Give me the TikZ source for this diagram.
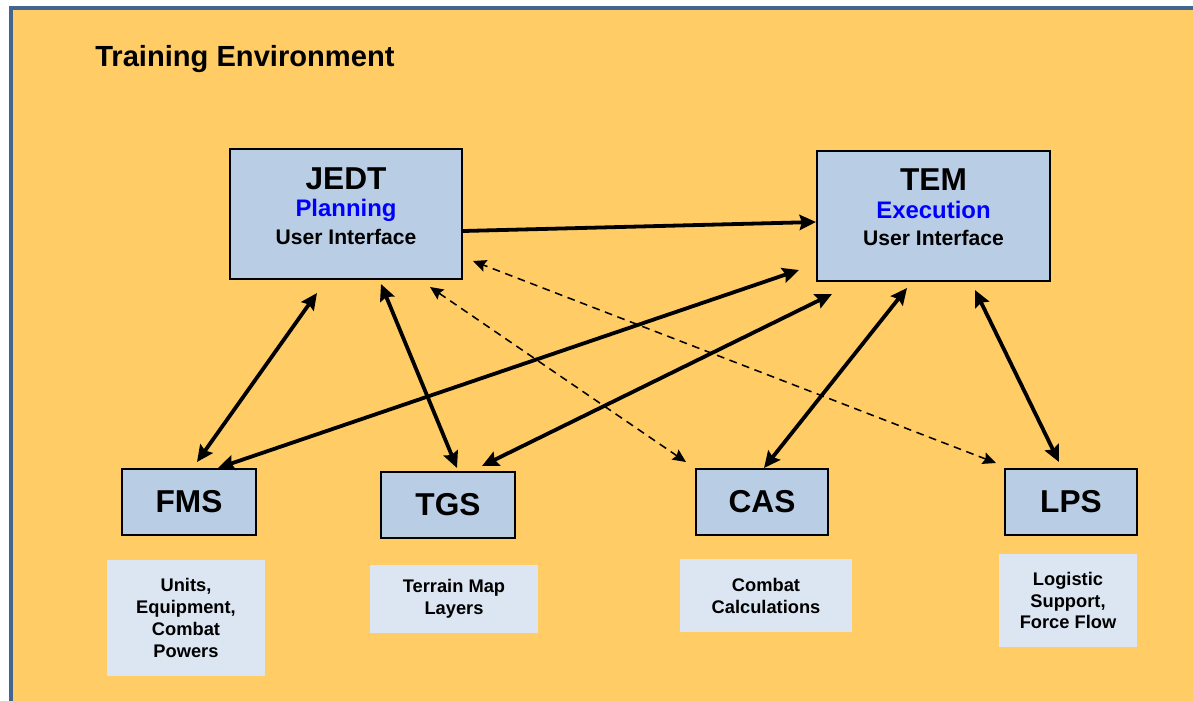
\documentclass[tikz,border=0pt]{standalone}
\usepackage{fontspec}
\setmainfont{Liberation Sans}
\usetikzlibrary{arrows.meta,calc}
\definecolor{envbg}{RGB}{255,204,102}
\definecolor{envframe}{RGB}{68,101,143}
\definecolor{boxfill}{RGB}{185,205,229}
\definecolor{notefill}{RGB}{220,230,242}
\definecolor{modeblue}{RGB}{0,0,255}
\newcommand{\fsz}[2]{\fontsize{#1}{#2}\selectfont\bfseries}
\tikzset{
  sysbox/.style={draw=black, line width=1.4pt, fill=boxfill, inner sep=0pt},
  uibox/.style={sysbox, minimum width=5.8cm, minimum height=3.25cm},
  modbox/.style={sysbox, minimum width=3.35cm, minimum height=1.65cm, font=\fsz{22.5}{27}},
  note/.style={fill=notefill, inner sep=0pt, align=center, font=\fsz{13}{15.6}},
  uitxt/.style={align=center, font=\fsz{15}{19.5}},
  link/.style={{Stealth[length=4.1mm,width=3.8mm,inset=0.6mm]}-{Stealth[length=4.1mm,width=3.8mm,inset=0.6mm]}, line width=2.7pt},
  flow/.style={-{Stealth[length=4.1mm,width=3.8mm,inset=0.6mm]}, line width=2.7pt},
  weak/.style={{Stealth[length=3.3mm,width=3mm,inset=0.5mm]}-{Stealth[length=3.3mm,width=3mm,inset=0.5mm]}, line width=1.1pt, dash pattern=on 5.5pt off 4pt},
}

\begin{document}
\begin{tikzpicture}[x=0.025cm, y=-0.025cm]
  \useasboundingbox (0,0) rectangle (1193,700);
  \fill[white] (0,0) rectangle (1193,700);
  \clip (0,0) rectangle (1193,700);
  \draw[envframe, line width=2.9pt, fill=envbg] (11,8) rectangle (1215,720);
  \node[anchor=base west, inner sep=0pt, font=\fsz{20.7}{24}] (title) at (95,66) {Training Environment};

  \node[uibox] (jedt) at (346,214) {};
  \node[uitxt] (jedttxt) at ($(jedt)+(0,-8)$) {{\fsz{22.5}{27}JEDT}\\{\color{modeblue}\fsz{17}{20}Planning}\\User Interface};
  \node[uibox, minimum width=5.825cm] (tem) at (933.5,216) {};
  \node[uitxt] (temtxt) at ($(tem)+(0,-8.5)$) {{\fsz{22.5}{27}TEM}\\{\color{modeblue}\fsz{17}{20}Execution}\\User Interface};

  \node[modbox] (fms) at (189,502) {FMS};
  \node[modbox] (tgs) at (448,505) {TGS};
  \node[modbox, minimum width=3.3cm] (cas) at (762,502) {CAS};
  \node[modbox, minimum width=3.3cm] (lps) at (1071,502) {LPS};

  \node[note, minimum width=3.95cm, minimum height=2.9cm] (fmsnote) at (186,618) {Units,\\Equipment,\\Combat\\Powers};
  \node[note, minimum width=4.2cm, minimum height=1.7cm] (tgsnote) at (454,599) {Terrain Map\\Layers};
  \node[note, minimum width=4.3cm, minimum height=1.825cm] (casnote) at (766,595.5) {Combat\\Calculations};
  \node[note, minimum width=3.45cm, minimum height=2.325cm] (lpsnote) at (1068,600.5) {Logistic\\Support,\\Force Flow};

  \draw[flow] ($(jedt.east)+(0,17)$) -- ($(tem.west)+(0,6)$);
  \draw[link] ($(fms.north)+(8,-6)$) -- ($(jedt.south)+(-29,13)$);
  \draw[link] ($(fms.north)+(29,0)$) -- ($(tem.south west)+(-17,-12)$);
  \draw[link] ($(tgs.north)+(9,-3)$) -- ($(jedt.south)+(35,4)$);
  \draw[link] ($(tgs.north)+(34,-5)$) -- ($(tem.south west)+(16,12)$);
  \draw[link] ($(cas.north)+(2,0)$) -- ($(tem.south)+(-26.5,6)$);
  \draw[link] ($(lps.north)+(-12,-6)$) -- ($(tem.south)+(41.5,8)$);
  \draw[weak] ($(cas.north west)+(-9,-6)$) -- ($(jedt.south)+(84,7)$);
  \draw[weak] ($(lps.north west)+(-8,-5)$) -- ($(jedt.south east)+(10,-19)$);
\end{tikzpicture}
\end{document}
